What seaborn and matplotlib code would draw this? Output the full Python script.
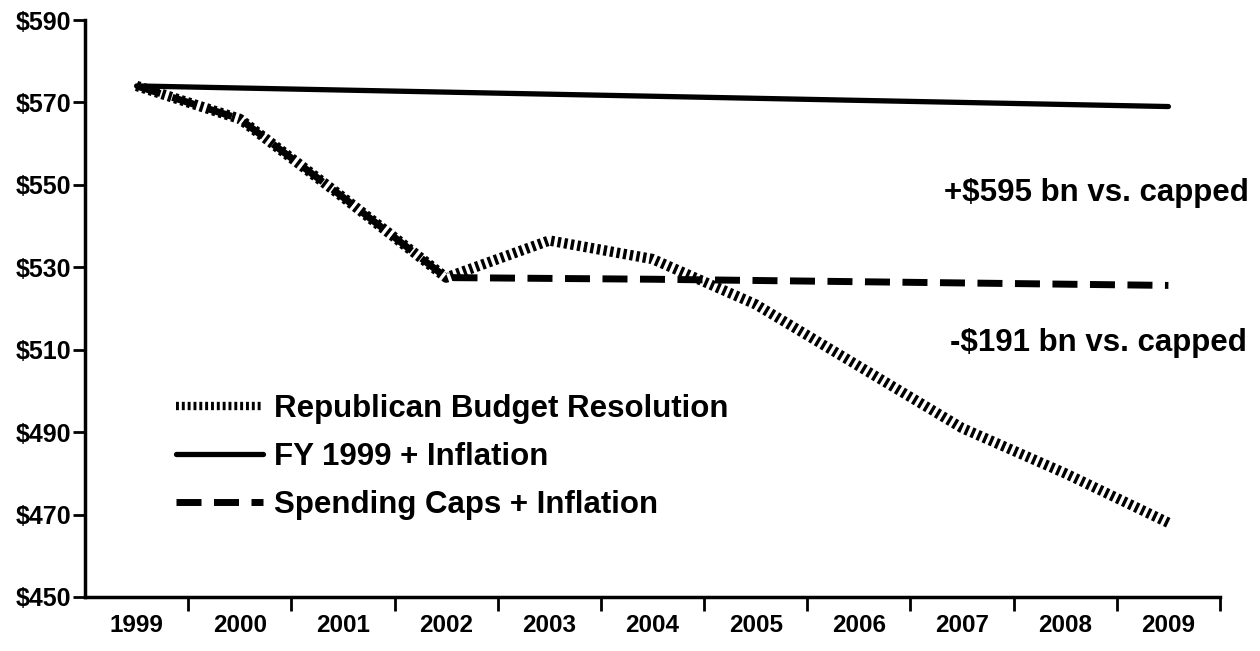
import numpy as np
import pandas as pd
import matplotlib
matplotlib.use("Agg")
import matplotlib.pyplot as plt
from matplotlib.lines import Line2D
import seaborn as sns

years = ["1999", "2000", "2001", "2002", "2003", "2004", "2005", "2006", "2007", "2008", "2009"]
republican = [574, 566, 547, 527.5, 536.5, 532, 521, 506, 491, 480, 468]
fy1999 = [574, 573.5, 573, 572.5, 572, 571.5, 571, 570.5, 570, 569.5, 569]
caps = [574, 566, 547, 527.5, 527.3, 527.1, 526.8, 526.5, 526.2, 525.9, 525.6]
yticks = [450, 470, 490, 510, 530, 550, 570, 590]
series_names = ["Republican Budget Resolution", "FY 1999 + Inflation", "Spending Caps + Inflation"]
annotations = ["+$595 bn vs. capped", "-$191 bn vs. capped"]

sns.set_theme(style="white")
plt.rcParams["font.family"] = ["Liberation Sans", "DejaVu Sans"]
plt.rcParams["font.weight"] = "bold"
plt.rcParams["text.color"] = "black"
plt.rcParams["xtick.color"] = "black"
plt.rcParams["ytick.color"] = "black"

fig = plt.figure(figsize=(12.6, 6.51), dpi=100)
ax = fig.add_axes([85 / 1260, 1 - 597 / 651, 1135 / 1260, 577 / 651])

pos = np.arange(len(years))
df = pd.DataFrame({"pos": pos, "rep": republican, "fy": fy1999, "caps": caps})

sns.lineplot(data=df, x="pos", y="caps", ax=ax, color="black", lw=5,
             linestyle=(0, (3.6, 1.8)), solid_capstyle="butt")
sns.lineplot(data=df, x="pos", y="fy", ax=ax, color="black", lw=3.8, solid_capstyle="round")
sns.lineplot(data=df, x="pos", y="rep", ax=ax, color="black", lw=7.5,
             linestyle=(0, (0.32, 0.32)))

ax.set_xlim(-0.5, len(years) - 0.5)
ax.set_ylim(450, 590)
ax.set_xlabel("")
ax.set_ylabel("")

ax.set_yticks(yticks)
ax.set_yticklabels([f"${v}" for v in yticks], fontsize=18, fontweight="bold", color="black")
ax.set_xticks(pos)
ax.set_xticklabels(years, fontsize=17.5, fontweight="bold", color="black")
ax.set_xticks(np.arange(len(years)) + 0.5, minor=True)
ax.tick_params(axis="x", which="major", length=0, pad=12)
ax.tick_params(axis="x", which="minor", direction="out", length=10, width=2, color="black", bottom=True)
ax.tick_params(axis="y", which="major", direction="out", length=9, width=2, color="black", left=True, pad=1)

for s in ["top", "right"]:
    ax.spines[s].set_visible(False)
for s in ["left", "bottom"]:
    ax.spines[s].set_color("black")
    ax.spines[s].set_linewidth(2.5)

handles = [
    Line2D([], [], color="black", lw=6, linestyle=(0, (0.35, 0.35))),
    Line2D([], [], color="black", lw=3.8),
    Line2D([], [], color="black", lw=5, linestyle=(0, (3.6, 1.8))),
]
leg = ax.legend(handles, series_names, loc="upper left", bbox_to_anchor=(0.08, 0.352),
                frameon=False, fontsize=22.5, handlelength=2.8, handletextpad=0.35,
                labelspacing=0.57, borderpad=0, borderaxespad=0)
for t in leg.get_texts():
    t.set_fontweight("bold")
    t.set_color("black")

ax.text(1249 / 1260, 1 - 193 / 651, annotations[0], transform=fig.transFigure,
        ha="right", va="center", fontsize=22.5, fontweight="bold", color="black")
ax.text(1247 / 1260, 1 - 343 / 651, annotations[1], transform=fig.transFigure,
        ha="right", va="center", fontsize=22.5, fontweight="bold", color="black")

fig.savefig("out.png", dpi=100, facecolor="white")
